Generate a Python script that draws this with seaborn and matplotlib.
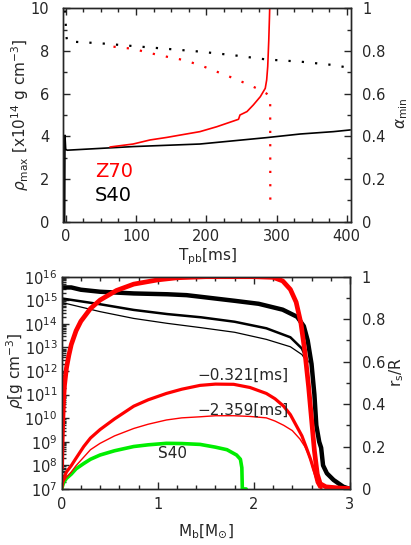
import numpy as np
import pandas as pd
import matplotlib
matplotlib.use('Agg')
import matplotlib.pyplot as plt
import seaborn as sns
from matplotlib.ticker import MultipleLocator, LogLocator, NullFormatter

# --- top panel: time evolution after bounce ---
t_s40_rho = [-1.5, -1.0, 0.0, 2, 96, 191, 286, 334, 381, 405]
rho_s40 = [0.0, 4.05, 3.4, 3.35, 3.52, 3.64, 3.94, 4.11, 4.22, 4.3]

t_z70_rho = [63, 96, 120, 144, 163, 191, 215, 239, 246, 248, 258, 267, 277, 284, 286, 287.5, 289, 290, 290.5]
rho_z70 = [3.5, 3.64, 3.83, 3.95, 4.06, 4.22, 4.45, 4.72, 4.8, 5.0, 5.16, 5.47, 5.86, 6.25, 6.64, 7.27, 8.5, 9.6, 10.2]

t_s40_alpha = [-1.0, 0.0, 1.0, 2, 49, 96, 144, 191, 239, 286, 334, 381, 405]
alpha_s40 = [0.99, 0.93, 0.87, 0.845, 0.836, 0.823, 0.81, 0.797, 0.78, 0.76, 0.75, 0.734, 0.72]

t_z70_alpha = [68, 96, 120, 144, 167, 191, 215, 239, 262, 277, 286, 291, 291.2]
alpha_z70 = [0.82, 0.81, 0.79, 0.773, 0.758, 0.734, 0.703, 0.672, 0.64, 0.617, 0.60, 0.586, 0.10]

# --- bottom panel: profiles vs baryon mass ---
mb_rho_thick = [0, 0.1, 0.2, 0.4, 0.75, 1.1, 1.3, 1.45, 1.8, 2.05, 2.3, 2.45, 2.52, 2.56, 2.6,
                2.63, 2.65, 2.68, 2.7, 2.72, 2.76, 2.83, 2.93, 3.0]
rho_thick = [3.5e15, 3.5e15, 2.8e15, 2.3e15, 1.95e15, 1.8e15, 1.65e15, 1.4e15, 9.5e14, 7.1e14,
             4.0e14, 2.0e14, 8e13, 2e13, 2e12, 1e11, 5e9, 1e9, 5.6e8, 1e8, 4.6e7, 2.4e7, 1.25e7, 1e7]
mb_rho_mid = [0, 0.4, 0.75, 1.1, 1.45, 1.8, 2.13, 2.38, 2.5, 2.56]
rho_mid = [1.2e15, 6.8e14, 3.9e14, 2.6e14, 1.9e14, 1.23e14, 6.5e13, 2.7e13, 9e12, 2.5e12]
mb_rho_thin = [0, 0.4, 0.75, 1.1, 1.45, 1.8, 2.13, 2.38, 2.5, 2.56]
rho_thin = [8.1e14, 3.3e14, 1.7e14, 1.05e14, 6.9e13, 4.4e13, 2.2e13, 1.07e13, 5e12, 2.2e12]

mb_rs_thick = [0, 0.005, 0.01, 0.02, 0.03, 0.05, 0.075, 0.1, 0.15, 0.2, 0.25, 0.3, 0.4, 0.57, 0.75,
               1.0, 1.2, 1.5, 2.0, 2.2, 2.3, 2.38, 2.44, 2.49, 2.53, 2.57, 2.6, 2.63, 2.66, 2.69,
               2.75, 2.9, 3.0]
rs_thick = [0.10, 0.22, 0.30, 0.42, 0.49, 0.57, 0.63, 0.68, 0.745, 0.79, 0.82, 0.85, 0.89, 0.935,
            0.965, 0.985, 0.995, 1.0, 1.0, 0.997, 0.98, 0.94, 0.88, 0.78, 0.65, 0.48, 0.33, 0.18,
            0.07, 0.025, 0.01, 0.004, 0.002]
mb_rs_mid = [0, 0.01, 0.02, 0.05, 0.1, 0.15, 0.23, 0.3, 0.4, 0.55, 0.75, 0.9, 1.09, 1.25, 1.44,
             1.6, 1.79, 1.96, 2.13, 2.22, 2.31, 2.38, 2.44, 2.5, 2.55, 2.59, 2.62, 2.67, 2.7]
rs_mid = [0.0, 0.03, 0.05, 0.08, 0.11, 0.145, 0.2, 0.24, 0.28, 0.33, 0.39, 0.42, 0.45, 0.47, 0.488,
          0.494, 0.493, 0.478, 0.45, 0.425, 0.39, 0.35, 0.30, 0.25, 0.19, 0.14, 0.095, 0.03, 0.005]
mb_rs_thin = [0, 0.02, 0.05, 0.1, 0.15, 0.23, 0.3, 0.4, 0.55, 0.75, 0.9, 1.09, 1.25, 1.44, 1.6,
              1.79, 1.95, 2.13, 2.22, 2.31, 2.4, 2.48, 2.53, 2.57, 2.6, 2.62, 2.65, 2.68]
rs_thin = [0.0, 0.035, 0.055, 0.08, 0.11, 0.15, 0.185, 0.215, 0.25, 0.285, 0.305, 0.325, 0.335,
           0.34, 0.345, 0.345, 0.342, 0.335, 0.32, 0.30, 0.275, 0.235, 0.2, 0.16, 0.12, 0.085,
           0.03, 0.005]
mb_rs_s40 = [0, 0.02, 0.05, 0.1, 0.15, 0.23, 0.3, 0.4, 0.55, 0.75, 0.9, 1.09, 1.25, 1.44, 1.6,
             1.72, 1.82, 1.86, 1.875, 1.88, 1.92]
rs_s40 = [0.0, 0.03, 0.05, 0.07, 0.095, 0.12, 0.14, 0.16, 0.18, 0.2, 0.208, 0.215, 0.214, 0.21,
          0.197, 0.185, 0.16, 0.14, 0.1, 0.0, 0.0]

sns.set_style('ticks')
plt.rcParams['font.family'] = ['DejaVu Sans']
plt.rcParams['mathtext.fontset'] = 'dejavusans'
plt.rcParams['axes.linewidth'] = 1.0

fig = plt.figure(figsize=(4.11, 5.45), dpi=100)
ax = fig.add_axes([0.1533, 0.5932, 0.7007, 0.3916])
ax2 = ax.twinx()


def line(axis, x, y, color, lw, ls='-'):
    sns.lineplot(x=x, y=y, ax=axis, color=color, lw=lw, linestyle=ls,
                 estimator=None, sort=False)


dots = (0, (1, 5))
line(ax, t_s40_rho, rho_s40, 'black', 1.2)
line(ax, t_z70_rho, rho_z70, 'red', 1.2)
line(ax2, t_s40_alpha, alpha_s40, 'black', 1.6, dots)
line(ax2, t_z70_alpha, alpha_z70, 'red', 1.6, dots)

ax.set_xlim(-3.8, 406)
ax.set_ylim(0, 10)
ax2.set_ylim(0, 1)
ax.xaxis.set_major_locator(MultipleLocator(100))
ax.xaxis.set_minor_locator(MultipleLocator(25))
ax.yaxis.set_major_locator(MultipleLocator(2))
ax.yaxis.set_minor_locator(MultipleLocator(1))
ax2.yaxis.set_minor_locator(MultipleLocator(0.1))
ax2.set_yticks([0, 0.2, 0.4, 0.6, 0.8, 1.0], ['0', '0.2', '0.4', '0.6', '0.8', '1'])

ax.tick_params(axis='x', which='both', direction='in', top=True, bottom=True, labelsize=10.5, pad=5)
ax.tick_params(axis='y', which='both', direction='in', left=True, right=False, labelsize=10.5, pad=10)
ax2.tick_params(axis='y', which='both', direction='in', labelsize=10.5, pad=8)
for a in (ax, ax2):
    a.tick_params(which='major', length=5, width=1)
    a.tick_params(which='minor', length=2.8, width=1)

ax.set_xlabel(r'T$_{\rm pb}$[ms]', fontsize=11)
ax.xaxis.set_label_coords(0.5, -0.115)
ax.set_ylabel(r'$\rho_{\rm max}$ [x10$^{14}$ g cm$^{-3}$]', fontsize=11)
ax.yaxis.set_label_coords(-0.111, 0.5)
ax2.set_ylabel(r'$\alpha_{\rm min}$', fontsize=11)
ax2.yaxis.set_label_coords(1.15, 0.51)

ax.text(0.111, 0.209, 'Z70', color='red', fontsize=14, transform=ax.transAxes)
ax.text(0.111, 0.097, 'S40', color='black', fontsize=14, transform=ax.transAxes)

# bottom panel
bx = fig.add_axes([0.150, 0.1028, 0.7015, 0.3895])
bx.set_yscale('log')
bx2 = bx.twinx()

line(bx, mb_rho_thin, rho_thin, 'black', 0.9)
line(bx, mb_rho_mid, rho_mid, 'black', 1.8)
line(bx, mb_rho_thick, rho_thick, 'black', 3.2)
line(bx2, mb_rs_s40, rs_s40, '#00ee00', 2.6)
line(bx2, mb_rs_thin, rs_thin, 'red', 1.0)
line(bx2, mb_rs_mid, rs_mid, 'red', 2.3)
line(bx2, mb_rs_thick, rs_thick, 'red', 3.4)

bx.set_xlim(0, 3)
bx.set_ylim(1e7, 1e16)
bx2.set_ylim(0, 1)
bx.xaxis.set_major_locator(MultipleLocator(1))
bx.xaxis.set_minor_locator(MultipleLocator(0.2))
bx.yaxis.set_major_locator(LogLocator(base=10, numticks=20))
bx.yaxis.set_minor_locator(LogLocator(base=10, subs=np.arange(2, 10), numticks=20))
bx.yaxis.set_minor_formatter(NullFormatter())
bx2.yaxis.set_minor_locator(MultipleLocator(0.1))
bx2.set_yticks([0, 0.2, 0.4, 0.6, 0.8, 1.0], ['0', '0.2', '0.4', '0.6', '0.8', '1'])

bx.tick_params(axis='x', which='both', direction='in', top=True, bottom=True, labelsize=10.5, pad=6)
bx.tick_params(axis='y', which='both', direction='in', left=True, right=False, labelsize=10.5, pad=3)
bx2.tick_params(axis='y', which='both', direction='in', labelsize=10.5, pad=8.5)
for a in (bx, bx2):
    a.tick_params(which='major', length=5, width=1)
    a.tick_params(which='minor', length=2.8, width=1)

bx.set_xlabel(r'M$_{\rm b}$[M$_{\odot}$]', fontsize=11)
bx.xaxis.set_label_coords(0.5, -0.155)
bx.set_ylabel(r'$\rho$[g cm$^{-3}$]', fontsize=11)
bx.yaxis.set_label_coords(-0.124, 0.556)
bx2.set_ylabel(r'r$_{\rm s}$/R', fontsize=11)
bx2.yaxis.set_label_coords(1.13, 0.55)

bx2.text(1.41, 0.516, '\u22120.321[ms]', fontsize=11)
bx2.text(1.41, 0.35, '\u22122.359[ms]', fontsize=11)
bx2.text(1.0, 0.144, 'S40', fontsize=11)

fig.savefig('out.png', dpi=100)
